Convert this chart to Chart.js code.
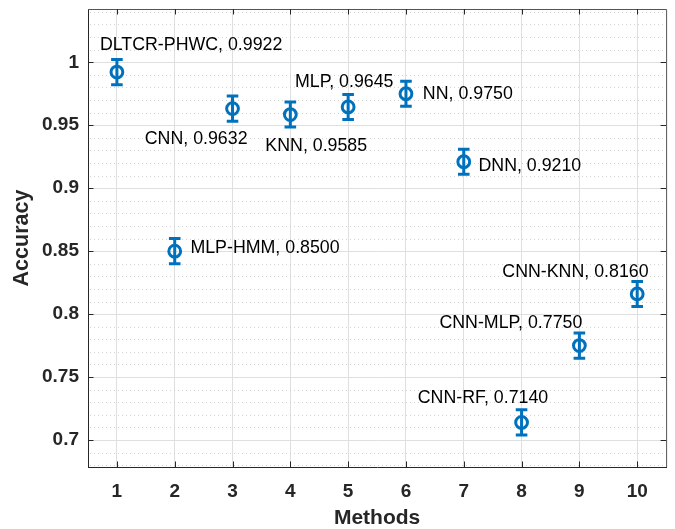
<!DOCTYPE html>
<html lang="en">
<head>
  <meta charset="UTF-8" />
  <title>Accuracy by method</title>
  <style>
    html, body {
      margin: 0;
      padding: 0;
      background: #fff;
      overflow: hidden;
    }
    #grafico {
      display: block;
    }
  </style>
</head>
<body>
  <canvas id="grafico" width="675" height="529"></canvas>

  <script src="https://cdn.jsdelivr.net/npm/chart.js@4"></script>
  <script>
    // data
    const metodos = [1, 2, 3, 4, 5, 6, 7, 8, 9, 10];
    const nomes = ['DLTCR-PHWC', 'MLP-HMM', 'CNN', 'KNN', 'MLP', 'NN', 'DNN', 'CNN-RF', 'CNN-MLP', 'CNN-KNN'];
    const acuracias = [0.9922, 0.8500, 0.9632, 0.9585, 0.9645, 0.9750, 0.9210, 0.7140, 0.7750, 0.8160];
    const erros = [0.01, 0.01, 0.01, 0.01, 0.01, 0.01, 0.01, 0.01, 0.01, 0.01];
    const xTicks = [1, 2, 3, 4, 5, 6, 7, 8, 9, 10];
    const yTicks = [0.7, 0.75, 0.8, 0.85, 0.9, 0.95, 1];

    // where each text label sits, in px from its marker (start of text, baseline)
    const deslocRotulos = [
      [-17, -22.5], [15.7, 2.2], [-87.8, 35.7], [-25, 36.5], [-53.2, -19.7],
      [16.9, 5.6], [14.7, 9.3], [-103.8, -19], [-140, -17.2], [-134.9, -16.6]
    ];

    const azul = '#0072BD';
    const corEixo = '#262626';

    Chart.defaults.font.family = "'Liberation Sans', Arial, Helvetica, sans-serif";

    const pluginMatlab = {
      id: 'estiloMatlab',
      beforeDatasetsDraw(chart) {
        // dotted minor grid every 0.01
        const { ctx, chartArea: a, scales: { y } } = chart;
        ctx.save();
        ctx.strokeStyle = '#d2d2d2';
        ctx.lineWidth = 1;
        ctx.setLineDash([1, 3]);
        for (let k = Math.ceil(y.min * 100); k <= Math.floor(y.max * 100); k++) {
          if (k % 5 === 0) continue;
          const py = Math.round(y.getPixelForValue(k / 100)) + 0.5;
          ctx.beginPath();
          ctx.moveTo(a.left + 2, py);
          ctx.lineTo(a.right, py);
          ctx.stroke();
        }
        ctx.restore();
      },
      afterDatasetsDraw(chart) {
        const { ctx, scales: { x, y } } = chart;
        ctx.save();
        // error bars
        ctx.strokeStyle = azul;
        ctx.lineWidth = 3;
        ctx.setLineDash([]);
        metodos.forEach((m, i) => {
          const px = x.getPixelForValue(m);
          const topo = y.getPixelForValue(acuracias[i] + erros[i]);
          const base = y.getPixelForValue(acuracias[i] - erros[i]);
          ctx.beginPath();
          ctx.moveTo(px, topo);
          ctx.lineTo(px, base);
          ctx.moveTo(px - 5.8, topo);
          ctx.lineTo(px + 5.8, topo);
          ctx.moveTo(px - 5.8, base);
          ctx.lineTo(px + 5.8, base);
          ctx.stroke();
        });
        // text labels
        ctx.fillStyle = '#000';
        ctx.font = "17.8px 'Liberation Sans', Arial, sans-serif";
        ctx.textAlign = 'left';
        ctx.textBaseline = 'alphabetic';
        metodos.forEach((m, i) => {
          const px = x.getPixelForValue(m);
          const py = y.getPixelForValue(acuracias[i]);
          const [dx, dy] = deslocRotulos[i];
          ctx.fillText(nomes[i] + ', ' + acuracias[i].toFixed(4), px + dx, py + dy);
        });
        ctx.restore();
      },
      afterDraw(chart) {
        // box and inward tick marks
        const { ctx, chartArea: a, scales: { x, y } } = chart;
        const t = 5.5;
        ctx.save();
        ctx.lineWidth = 1;
        ctx.strokeStyle = '#555';
        ctx.beginPath();
        ctx.moveTo(a.left, a.top + 0.5);
        ctx.lineTo(a.right + 0.5, a.top + 0.5);
        ctx.lineTo(a.right + 0.5, a.bottom);
        ctx.stroke();
        ctx.strokeStyle = corEixo;
        ctx.beginPath();
        xTicks.forEach(v => {
          const px = Math.round(x.getPixelForValue(v)) + 0.5;
          ctx.moveTo(px, a.bottom);
          ctx.lineTo(px, a.bottom - t);
          ctx.moveTo(px, a.top);
          ctx.lineTo(px, a.top + t);
        });
        yTicks.forEach(v => {
          const py = Math.round(y.getPixelForValue(v)) + 0.5;
          ctx.moveTo(a.left, py);
          ctx.lineTo(a.left + t, py);
          ctx.moveTo(a.right, py);
          ctx.lineTo(a.right - t, py);
        });
        ctx.stroke();
        ctx.restore();
      }
    };

    new Chart(document.getElementById('grafico'), {
      type: 'scatter',
      data: {
        datasets: [{
          data: metodos.map((m, i) => ({ x: m, y: acuracias[i] })),
          showLine: false,
          pointRadius: 5.9,
          pointHoverRadius: 5.9,
          pointBorderWidth: 3,
          pointBorderColor: azul,
          pointBackgroundColor: 'rgba(0,0,0,0)'
        }]
      },
      options: {
        responsive: false,
        animation: false,
        devicePixelRatio: 1,
        layout: { padding: { left: 0, top: 9, right: 5, bottom: 0 } },
        plugins: {
          legend: { display: false },
          tooltip: { enabled: false }
        },
        scales: {
          x: {
            type: 'linear',
            min: 0.5,
            max: 10.5,
            afterBuildTicks: s => { s.ticks = xTicks.map(v => ({ value: v })); },
            afterFit: s => { s.height = 62; s.paddingLeft = 0; s.paddingRight = 0; },
            grid: { color: '#dfdfdf', drawTicks: false },
            border: { display: true, color: corEixo, width: 1 },
            ticks: {
              padding: 13,
              color: corEixo,
              autoSkip: false,
              maxRotation: 0,
              font: { size: 19, weight: 'bold' },
              callback: v => String(v)
            },
            title: {
              display: true,
              text: 'Methods',
              color: corEixo,
              padding: 0,
              font: { size: 21, weight: 'bold', lineHeight: 1 }
            }
          },
          y: {
            type: 'linear',
            min: 0.6786,
            max: 1.0423,
            afterBuildTicks: s => { s.ticks = yTicks.map(v => ({ value: v })); },
            afterFit: s => { s.width = 88; s.paddingTop = 0; s.paddingBottom = 0; },
            grid: { color: '#dfdfdf', drawTicks: false },
            border: { display: true, color: corEixo, width: 1 },
            ticks: {
              padding: 9,
              color: corEixo,
              autoSkip: false,
              font: { size: 19, weight: 'bold' },
              callback: v => String(Number(v.toFixed(2)))
            },
            title: {
              display: true,
              text: 'Accuracy',
              color: corEixo,
              padding: { top: 9, bottom: 0 },
              font: { size: 21.5, weight: 'bold', lineHeight: 1.2 }
            }
          }
        }
      },
      plugins: [pluginMatlab]
    });
  </script>
</body>
</html>
